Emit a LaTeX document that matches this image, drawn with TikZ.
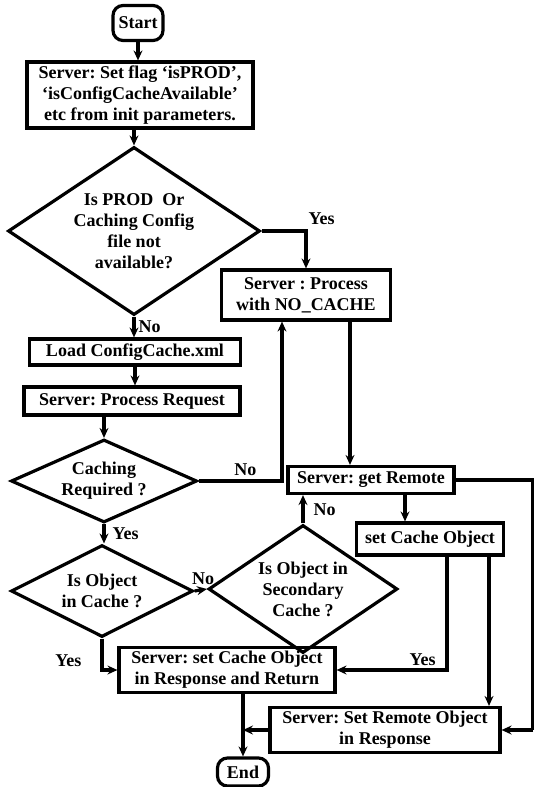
\documentclass[tikz,border=0pt]{standalone}
\usepackage{fontspec}
\setmainfont{Liberation Serif}
\usetikzlibrary{shapes.geometric,arrows.meta,calc}
\frenchspacing
\begin{document}
\begin{tikzpicture}[x=1pt,y=-1pt,
  every node/.style={font=\fontsize{18}{21}\selectfont\bfseries, align=center},
  line/.style={line width=3.2pt},
  arr/.style={line width=3.2pt,-{Stealth[length=10pt,width=9pt,inset=3.5pt]}},
  proc/.style={draw,line width=3.2pt,rectangle,inner sep=0pt},
  term/.style={draw,line width=3.2pt,rounded corners=10pt,inner sep=0pt},
  dec/.style={draw,line width=3.2pt,diamond,inner xsep=-10pt,inner ysep=-2pt},
  lab/.style={font=\fontsize{18}{21}\selectfont\bfseries,inner sep=1pt}]
\useasboundingbox (0,0) rectangle (534,787);
\node[term,minimum width=50pt,minimum height=35pt] (start) at (138,23) {Start};
\node[proc,minimum width=226pt,minimum height=66pt] (init) at (140,95) {Server: Set flag `isPROD',\\`isConfigCacheAvailable'\\etc from init parameters.};
\node[dec,minimum width=252pt,minimum height=168pt,aspect=1.5] (d1) at (134,231) {Is PROD\ \ Or\\Caching Config\\file not\\available?};
\node[proc,minimum width=169pt,minimum height=50pt] (nocache) at (306,295) {Server : Process\\with NO\_CACHE};
\node[proc,minimum width=211pt,minimum height=26pt] (load) at (135,352) {Load ConfigCache.xml};
\node[proc,minimum width=216pt,minimum height=28pt] (preq) at (132,401) {Server: Process Request};
\node[dec,minimum width=186pt,minimum height=83pt,aspect=2.24] (d2) at (104,481) {Caching\\Required ?};
\node[proc,minimum width=166pt,minimum height=27pt] (remote) at (371,480) {Server: get Remote};
\node[proc,minimum width=147pt,minimum height=32pt] (setcache) at (430,539) {set Cache Object};
\node[dec,minimum width=182pt,minimum height=92pt,aspect=2] (d3) at (102,591) {Is Object\\in Cache ?};
\node[dec,minimum width=189pt,minimum height=128pt,aspect=1.5] (d4) at (303,589) {Is Object in\\Secondary\\Cache ?};
\node[proc,minimum width=216pt,minimum height=45pt] (resp) at (227,670) {Server: set Cache Object\\in Response and Return};
\node[proc,minimum width=230pt,minimum height=45pt] (setremote) at (385,730) {Server: Set Remote Object\\in Response};
\node[term,minimum width=51pt,minimum height=28pt] (end) at (243,772) {End};
\coordinate (edge1) at (533,480);
\coordinate (edge2) at (setremote.east -| edge1);
% connectors
\draw[arr] (start) -- (start |- init.north);
\draw[arr] (init.south -| d1.north) -- (d1.north);
\draw[arr] (d1.east) -| node[lab,pos=0.5,anchor=south west,xshift=0pt,yshift=4pt] {Yes} (nocache.north);
\draw[arr] (d1.south) -- node[lab,anchor=west,xshift=2pt] {No} (d1.south |- load.north);
\draw[arr] (load.south) -- (load.south |- preq.north);
\draw[arr] (preq.south -| d2.north) -- (d2.north);
\draw[arr] (d2.east) -| node[lab,pos=0.28,anchor=south,yshift=3pt] {No} ([xshift=-24pt]nocache.south);
\draw[arr] ([xshift=44pt]nocache.south) -- ([xshift=44pt]nocache.south |- remote.north);
\draw[line] (remote.east) -- (edge1) -- (edge2);
\draw[arr] (edge2) -- (setremote.east);
\draw[arr] ([xshift=17pt]setcache.south) |- node[lab,pos=0.61,anchor=south,yshift=2pt] {Yes} (resp.east);
\draw[arr] ([xshift=34pt]remote.south) -- ([xshift=34pt]remote.south |- setcache.north);
\draw[arr] ([xshift=59pt]setcache.south) -- ([xshift=59pt]setcache.south |- setremote.north);
\draw[arr] (d2.south) -- node[lab,anchor=west,xshift=6pt] {Yes} (d2.south |- d3.north);
\draw[arr] (d3.east) -- node[lab,anchor=south,pos=0.7,yshift=2pt] {No} (d4.west);
\draw[arr] (d4.north) -- node[lab,anchor=west,xshift=8pt] {No} (d4.north |- remote.south);
\draw[arr] (d3.south) |- node[lab,pos=0.5,anchor=south east,xshift=-18pt,yshift=1pt] {Yes} (resp.west);
\draw[arr] (resp.south -| end.north) -- (end.north);
\draw[arr] (setremote.west) -- (setremote.west -| end.north);
\end{tikzpicture}
\end{document}
